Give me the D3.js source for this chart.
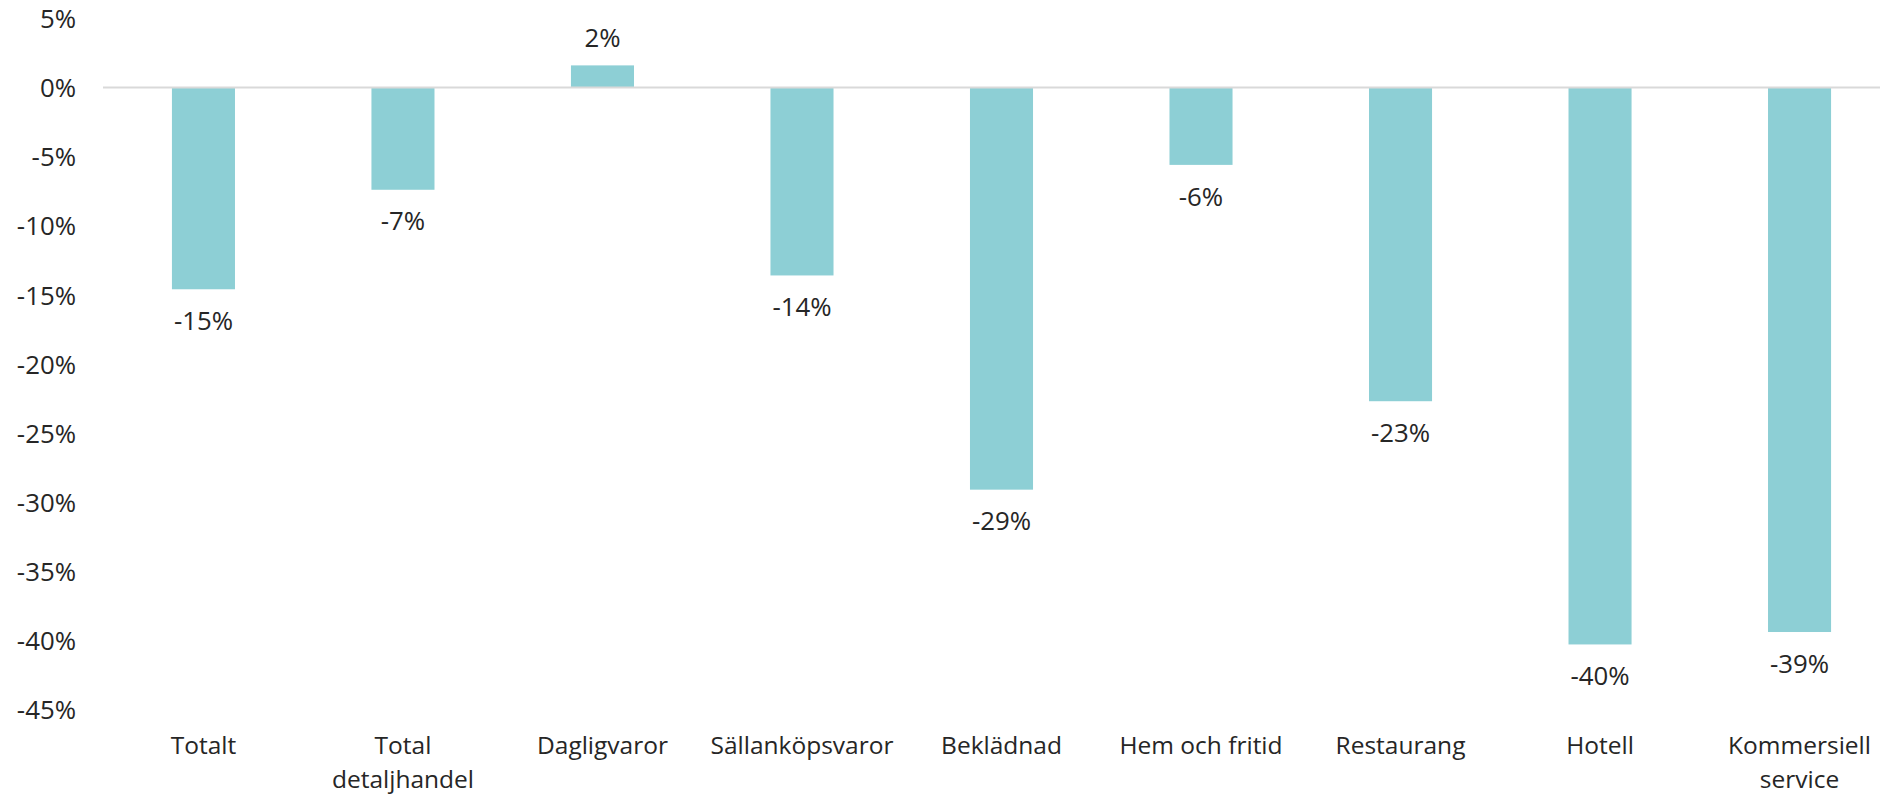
<!DOCTYPE html>
<html>
<head>
<meta charset="utf-8">
<script src="https://cdn.jsdelivr.net/npm/d3@7"></script>
<style>
  html, body { margin: 0; padding: 0; background: #ffffff; }
  svg { display: block; }
  text { font-family: "Open Sans", "Noto Sans", sans-serif; fill: #262626; }
</style>
</head>
<body>
<svg id="chart" width="1880" height="795"></svg>
<script>
// Change per category, in percent
const categories = [
  ["Totalt"],
  ["Total", "detaljhandel"],
  ["Dagligvaror"],
  ["Sällanköpsvaror"],
  ["Beklädnad"],
  ["Hem och fritid"],
  ["Restaurang"],
  ["Hotell"],
  ["Kommersiell", "service"]
];
const values = [-14.6, -7.4, 1.6, -13.6, -29.1, -5.6, -22.7, -40.3, -39.4];
const yTicks = [5, 0, -5, -10, -15, -20, -25, -30, -35, -40, -45];

const W = 1880, H = 795;
const svg = d3.select("#chart");
const keys = categories.map(c => c.join(" "));

const x = d3.scaleBand()
  .domain(keys)
  .range([103.7, 1899.3])
  .paddingInner(0.684)
  .paddingOuter(0.342);

const y = d3.scaleLinear()
  .domain([-45, 5])
  .range([709.4, 18.4]);

const fontSize = 25.8;
const catFontSize = 24.5;
const capHalf = 9.2;

// Value axis labels
const yAxis = d3.axisLeft(y)
  .tickValues(yTicks)
  .tickSize(0)
  .tickPadding(0)
  .tickFormat(d => `${d}%`);

const yg = svg.append("g")
  .attr("transform", "translate(76,0)")
  .call(yAxis);
yg.select(".domain").remove();
yg.selectAll("text")
  .attr("font-size", fontSize)
  .attr("font-family", null)
  .attr("dy", null)
  .attr("y", capHalf);

// Bars
svg.append("g")
  .selectAll("rect")
  .data(values)
  .join("rect")
  .attr("x", (d, i) => x(keys[i]))
  .attr("width", x.bandwidth())
  .attr("y", d => y(Math.max(0, d)))
  .attr("height", d => Math.abs(y(d) - y(0)))
  .attr("fill", "#8dcfd5");

// Zero line
svg.append("line")
  .attr("x1", 103)
  .attr("x2", W)
  .attr("y1", y(0))
  .attr("y2", y(0))
  .attr("stroke", "#d9d9d9")
  .attr("stroke-width", 2);

// Value labels
svg.append("g")
  .selectAll("text")
  .data(values)
  .join("text")
  .attr("x", (d, i) => x(keys[i]) + x.bandwidth() / 2)
  .attr("y", d => d < 0 ? y(d) + 31.5 + capHalf : y(d) - 28 + capHalf)
  .attr("text-anchor", "middle")
  .attr("font-size", fontSize)
  .text(d => `${Math.round(d)}%`);

// Category labels, one text per line
const lines = categories.flatMap((c, i) => c.map((t, j) => ({ t, i, j })));
svg.append("g")
  .selectAll("text")
  .data(lines)
  .join("text")
  .attr("x", d => x(keys[d.i]) + x.bandwidth() / 2)
  .attr("y", d => 754 + d.j * 33.5)
  .attr("text-anchor", "middle")
  .attr("font-size", catFontSize)
  .text(d => d.t);
</script>
</body>
</html>
